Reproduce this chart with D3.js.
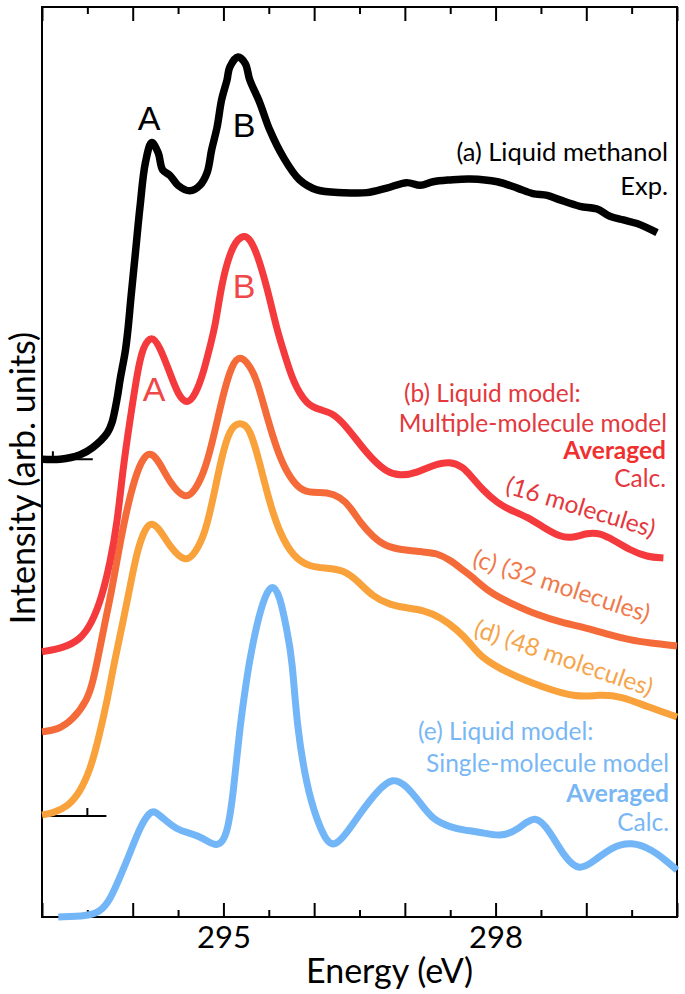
<!DOCTYPE html>
<html><head><meta charset="utf-8">
<script src="https://cdn.jsdelivr.net/npm/d3@7/dist/d3.min.js"></script>
<style>html,body{margin:0;padding:0;background:#fff;} svg{display:block;}</style>
</head><body>
<svg id="chart" width="685" height="994"></svg>
<script>
// ---------- data ----------
const majorTicks = [293, 294, 295, 296, 297, 298, 299, 300];
const minorTicks = [293.5, 294.5, 295.5, 296.5, 297.5, 298.5, 299.5];
const labeledTicks = [295, 298];

// (a) experiment: [energy eV, intensity (arb.)]
const expA = [[293.00,50.3],[293.20,50.3],[293.42,50.8],[293.56,51.6],[293.72,53.2],[293.77,54.3],[293.83,57.1],[293.86,59.0],[293.92,62.3],[293.95,64.8],[293.98,68.0],[294.03,73.0],[294.08,78.0],[294.14,82.9],[294.21,85.1],[294.28,84.0],[294.33,82.1],[294.41,81.5],[294.50,80.4],[294.63,79.8],[294.74,80.4],[294.82,81.8],[294.87,84.3],[294.93,86.8],[294.98,89.8],[295.04,92.0],[295.07,93.4],[295.16,94.5],[295.24,93.8],[295.29,92.0],[295.40,89.5],[295.51,86.5],[295.66,83.5],[295.84,81.0],[296.03,79.9],[296.32,79.6],[296.58,79.6],[296.80,80.1],[297.02,80.7],[297.17,80.4],[297.31,80.8],[297.50,81.0],[297.72,81.1],[298.02,80.8],[298.24,80.1],[298.41,79.5],[298.57,79.3],[298.71,78.8],[298.93,78.1],[299.12,77.8],[299.26,77.0],[299.41,76.6],[299.56,76.2],[299.78,75.2]];

// (b) 16 molecules
const calcB = [[293.00,29.15],[293.23,29.56],[293.42,30.44],[293.55,32.31],[293.66,35.16],[293.75,38.90],[293.83,43.30],[293.89,49.12],[293.97,54.62],[294.05,59.78],[294.11,62.64],[294.21,64.0],[294.30,62.64],[294.41,59.78],[294.50,57.36],[294.60,56.3],[294.69,57.36],[294.78,59.78],[294.85,62.64],[294.91,64.9],[294.98,69.6],[295.07,72.97],[295.16,74.6],[295.24,74.9],[295.29,74.5],[295.37,72.97],[295.48,69.23],[295.59,64.51],[295.66,62.31],[295.77,58.68],[295.92,56.26],[296.07,55.71],[296.21,55.38],[296.36,53.85],[296.51,51.87],[296.65,50.22],[296.80,48.90],[296.95,48.46],[297.13,48.79],[297.31,49.67],[297.50,50.1],[297.64,49.45],[297.72,48.57],[297.86,46.92],[298.02,45.49],[298.16,44.73],[298.35,43.96],[298.52,42.86],[298.71,41.76],[298.85,41.65],[299.01,42.20],[299.15,42.20],[299.30,41.43],[299.48,40.33],[299.67,39.56],[299.85,39.45]];

// (c) 32 molecules
const calcC = [[293.00,20.36],[293.17,20.55],[293.34,21.65],[293.50,23.85],[293.56,25.8],[293.62,28.6],[293.68,31.7],[293.77,35.93],[293.86,41.10],[293.95,45.49],[294.05,49.12],[294.14,50.8],[294.21,51.0],[294.30,49.89],[294.41,47.69],[294.58,45.8],[294.69,46.92],[294.80,49.12],[294.91,53.52],[295.00,57.58],[295.09,60.6],[295.18,61.8],[295.29,60.6],[295.37,59.01],[295.48,54.95],[295.59,51.32],[295.70,48.79],[295.84,46.92],[295.99,46.59],[296.14,46.70],[296.29,46.15],[296.40,45.05],[296.51,43.30],[296.65,41.76],[296.80,40.66],[296.98,40.33],[297.20,40.11],[297.35,40.00],[297.50,39.23],[297.64,38.13],[297.72,37.58],[297.94,35.60],[298.16,34.51],[298.46,33.19],[298.74,32.31],[299.01,31.76],[299.26,30.99],[299.48,30.44],[299.70,30.11],[300.00,29.78]];

// (d) 48 molecules
const calcD = [[293.00,11.21],[293.12,11.43],[293.28,12.09],[293.42,13.74],[293.53,16.15],[293.62,19.45],[293.72,23.85],[293.78,27.1],[293.83,29.5],[293.89,32.31],[293.97,36.26],[294.05,40.33],[294.14,42.8],[294.21,43.4],[294.30,42.6],[294.41,40.66],[294.58,38.9],[294.69,40.00],[294.80,42.20],[294.89,46.15],[294.98,50.55],[295.07,53.7],[295.18,54.4],[295.29,53.85],[295.40,49.89],[295.51,45.49],[295.62,42.20],[295.77,39.56],[295.95,38.46],[296.14,38.35],[296.32,38.13],[296.47,37.03],[296.65,35.16],[296.84,34.29],[297.02,33.96],[297.20,33.74],[297.39,32.97],[297.58,31.54],[297.72,30.11],[297.83,28.6],[298.13,26.81],[298.51,25.27],[298.90,24.07],[299.14,24.45],[299.38,24.29],[299.68,23.08],[300.00,21.98]];

// (e) single-molecule model
const calcE = [[293.18,0.00],[293.50,0.11],[293.64,0.55],[293.75,1.87],[293.86,4.40],[293.97,7.03],[294.08,9.89],[294.19,11.6],[294.25,11.6],[294.33,10.88],[294.49,9.56],[294.63,9.23],[294.78,8.68],[294.93,7.6],[295.04,8.79],[295.11,13.63],[295.18,20.88],[295.26,26.37],[295.29,28.24],[295.37,32.31],[295.46,35.4],[295.54,36.6],[295.62,35.4],[295.70,31.54],[295.76,28.24],[295.81,20.88],[295.92,14.29],[296.03,10.66],[296.14,8.2],[296.23,7.8],[296.36,9.23],[296.51,11.43],[296.69,13.8],[296.87,15.4],[297.02,14.4],[297.17,12.53],[297.31,10.66],[297.50,9.89],[297.64,9.56],[297.83,9.34],[298.05,8.79],[298.25,9.56],[298.44,11.4],[298.61,9.23],[298.76,6.59],[298.92,5.0],[299.10,6.26],[299.28,7.69],[299.50,8.3],[299.73,7.36],[299.87,6.26],[300.00,5.16]];

// baseline markers: [level, start energy, end energy, tick energy]
const baseMarkers = [[50.3, 293.0, 293.56, 293.12], [11.1, 293.0, 293.71, 293.5]];

const seriesColors = { a: "#000000", b: "#f43a3c", c: "#f46a38", d: "#f9a23c", e: "#72b6f7" };

// ---------- layout ----------
const svg = d3.select("#chart");
const mLeft = 42, mRight = 677, mTop = 7, mBottom = 917;
const x = d3.scaleLinear().domain([293, 300]).range([mLeft, mRight]);
const y = d3.scaleLinear().domain([0, 100]).range([mBottom, mTop]);
const FONT = "Lato, 'Open Sans', sans-serif";

// axes (ticks inward)
const gMinB = svg.append("g").attr("transform", `translate(0,${mBottom})`)
  .call(d3.axisBottom(x).tickValues(minorTicks).tickSize(-7).tickFormat(""));
const gMajB = svg.append("g").attr("transform", `translate(0,${mBottom})`)
  .call(d3.axisBottom(x).tickValues(majorTicks).tickSize(-14).tickPadding(9)
    .tickFormat(d => labeledTicks.includes(d) ? String(d) : ""));
const gMinT = svg.append("g").attr("transform", `translate(0,${mTop})`)
  .call(d3.axisTop(x).tickValues(minorTicks).tickSize(-7).tickFormat(""));
const gMajT = svg.append("g").attr("transform", `translate(0,${mTop})`)
  .call(d3.axisTop(x).tickValues(majorTicks).tickSize(-14).tickFormat(""));
[gMinB, gMajB, gMinT, gMajT].forEach(g => {
  g.select(".domain").remove();
  g.selectAll(".tick line").attr("stroke", "#000").attr("stroke-width", 2);
});
gMajB.selectAll(".tick text").attr("font-family", FONT).attr("font-size", 31).attr("fill", "#000");

// frame
svg.append("rect").attr("x", mLeft).attr("y", mTop).attr("width", mRight - mLeft).attr("height", mBottom - mTop)
  .attr("fill", "none").attr("stroke", "#000").attr("stroke-width", 2);

// baseline markers
baseMarkers.forEach(m => {
  svg.append("line").attr("x1", x(m[1])).attr("x2", x(m[2])).attr("y1", y(m[0])).attr("y2", y(m[0]))
    .attr("stroke", "#000").attr("stroke-width", 2);
  svg.append("line").attr("x1", x(m[3])).attr("x2", x(m[3])).attr("y1", y(m[0])).attr("y2", y(m[0]) - 8)
    .attr("stroke", "#000").attr("stroke-width", 2);
});

// curves
const smoothLine = d3.line().x(d => x(d[0])).y(d => y(d[1])).curve(d3.curveBasis);
const expLine = d3.line().x(d => x(d[0])).y(d => y(d[1])).curve(d3.curveCatmullRom.alpha(0.5));
const series = [["e", calcE, 7, smoothLine], ["d", calcD, 7, smoothLine], ["c", calcC, 7, smoothLine],
                ["b", calcB, 7, smoothLine], ["a", expA, 7.5, expLine]];
series.forEach(([k, data, w, gen]) => {
  svg.append("path").datum(data).attr("d", gen).attr("fill", "none")
    .attr("stroke", seriesColors[k]).attr("stroke-width", w).attr("stroke-linejoin", "round");
});

// axis titles
svg.append("text").attr("x", (mLeft + mRight) / 2 + 30).attr("y", 983).attr("text-anchor", "middle")
  .attr("font-family", FONT).attr("font-size", 34).attr("fill", "#000").text("Energy (eV)");
svg.append("text").attr("transform", "translate(35,478) rotate(-90)").attr("text-anchor", "middle")
  .attr("font-family", FONT).attr("font-size", 34).attr("fill", "#000").text("Intensity (arb. units)");

// peak labels
const peakFont = "'Liberation Sans', Arial, sans-serif";
[["A", 149, 130, "#000"], ["B", 244, 137, "#000"], ["A", 154, 401, "#f04848"], ["B", 244, 298, "#f04848"]]
  .forEach(([t, px, py, c]) => svg.append("text").attr("x", px).attr("y", py).attr("text-anchor", "middle")
    .attr("font-family", peakFont).attr("font-size", 34).attr("fill", c).text(t));

// annotations
function label(t, px, py, anchor, color, bold, size) {
  svg.append("text").attr("x", px).attr("y", py).attr("text-anchor", anchor)
    .attr("font-family", FONT).attr("font-size", size || 24.5).attr("font-weight", bold ? 700 : 400)
    .attr("fill", color).text(t);
}
label("(a) Liquid methanol", 668, 161, "end", "#000", false, 25.5);
label("Exp.", 668, 195, "end", "#000", false, 25.5);

const redText = "#e3383d";
label("(b) Liquid model:", 404, 402, "start", redText);
label("Multiple-molecule model", 667, 432, "end", redText);
label("Averaged", 666, 459, "end", "#f0302f", true);
label("Calc.", 666, 487, "end", redText);

const blueText = "#78b7f4";
label("(e) Liquid model:", 418, 740, "start", blueText);
label("Single-molecule model", 669, 772, "end", blueText);
label("Averaged", 669, 802, "end", blueText, true);
label("Calc.", 669, 831, "end", blueText);

function rotLabel(t, cx, cy, ang, color) {
  svg.append("text").attr("transform", `translate(${cx},${cy}) rotate(${ang})`)
    .attr("text-anchor", "middle").attr("dominant-baseline", "central")
    .attr("font-family", FONT).attr("font-size", 24.5).attr("fill", color).text(t);
}
rotLabel("(16 molecules)", 581, 506, 17, redText);
rotLabel("(c) (32 molecules)", 562, 585, 18, "#ef7a4c");
rotLabel("(d) (48 molecules)", 564, 657, 19, "#f5a54c");
</script>
</body></html>
